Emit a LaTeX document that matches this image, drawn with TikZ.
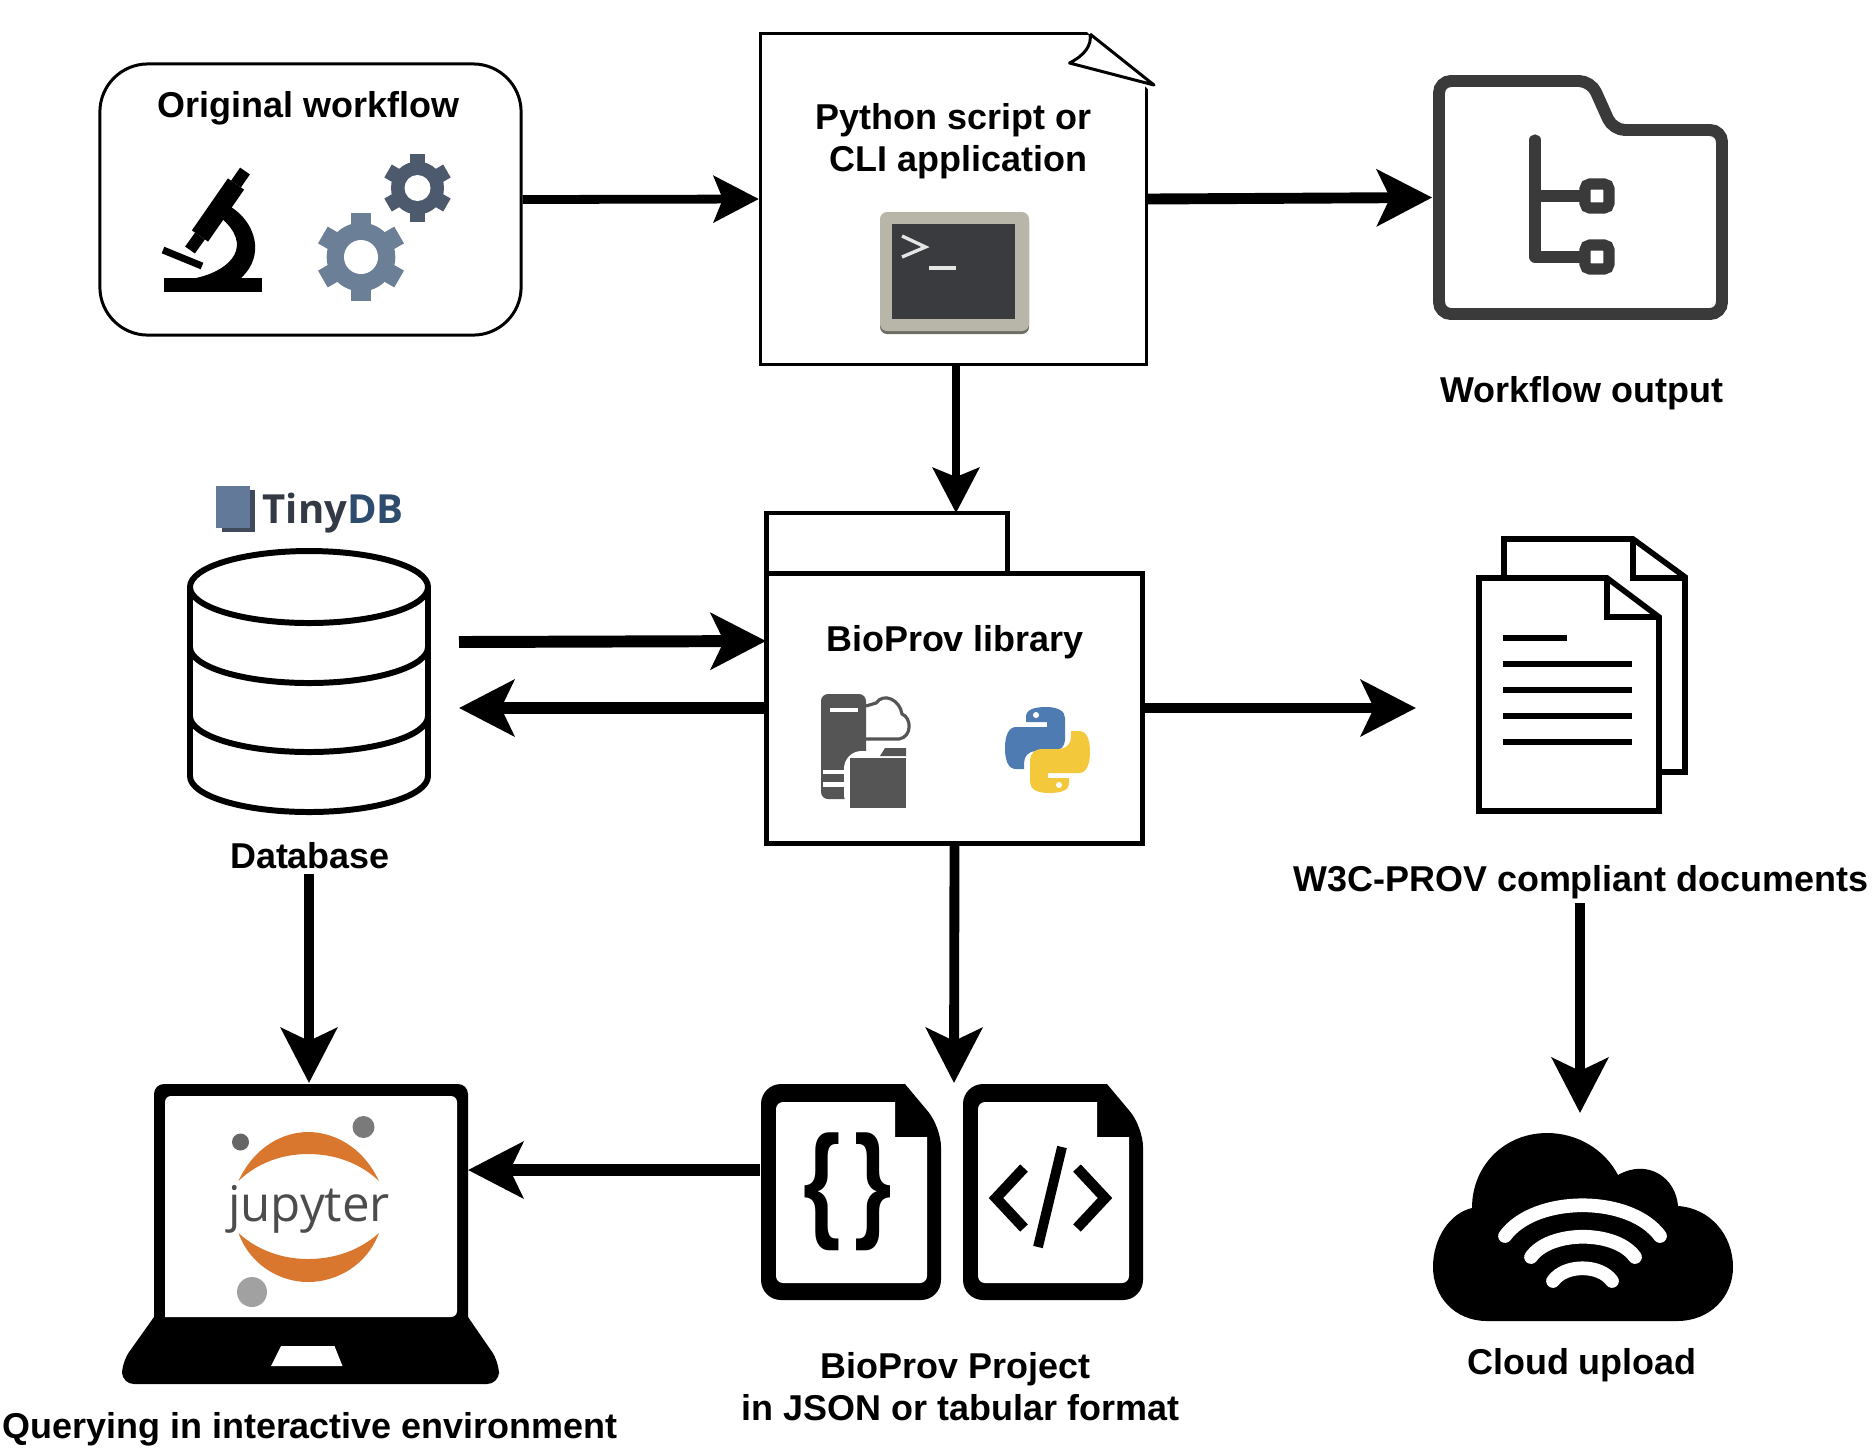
\documentclass[tikz,border=0pt]{standalone}
\usepackage{fontspec}
\usepackage{graphicx}
\setmainfont{Liberation Sans}
\newfontfamily\logofont{Open Sans}
\definecolor{gearlight}{RGB}{107,127,150}
\definecolor{geardark}{RGB}{77,90,109}
\definecolor{termframe}{RGB}{184,182,168}
\definecolor{termscreen}{RGB}{58,59,62}
\definecolor{foldergray}{RGB}{58,58,58}
\definecolor{servergray}{RGB}{85,85,85}
\definecolor{pyblue}{RGB}{79,123,179}
\definecolor{pyyellow}{RGB}{243,201,59}
\definecolor{jupyorange}{RGB}{217,119,47}
\definecolor{tinyblue}{RGB}{98,121,154}
\definecolor{tinyshade}{RGB}{63,74,91}
\definecolor{tinydark}{RGB}{51,58,69}
\definecolor{tinyletter}{RGB}{46,77,110}
\usetikzlibrary{arrows.meta,positioning,calc}
\tikzset{
    lbl/.style={font=\bfseries\fontsize{10.22}{11.95}\selectfont, inner sep=0pt, align=center},
    flow/.style={line width=2.8pt, -{Stealth[length=0.55cm,width=0.56cm,inset=0.13cm]}},
    smallflow/.style={line width=2.5pt, -{Stealth[length=0.45cm,width=0.46cm,inset=0.09cm]}},
}
% one gear: x, y, outer radius, hole radius, colour
\newcommand{\gearicon}[5]{
    \foreach \a in {30,90,...,330}
        \draw[#5, line width=#3*0.125pt] (#1,#2) -- ++(\a:#3);
    \fill[#5] (#1,#2) circle [radius=#3*0.78];
    \fill[white] (#1,#2) circle [radius=#4];
}
% one page with folded corner, black frame: left edge
\newcommand{\pageicon}[1]{
    \begin{scope}[shift={(#1,0)}]
        \fill (144,1084) [rounded corners=0.2cm] -- (0,1084) -- (0,1300) -- (180,1300) -- (180,1127) [sharp corners] -- cycle;
        \fill[white] (134,1102) [rounded corners=0.07cm] -- (15,1102) -- (15,1283) -- (166,1283) [sharp corners] -- (166,1137) -- (134,1137) -- cycle;
    \end{scope}
}
\begin{document}
\begin{tikzpicture}[x=0.01cm,y=-0.01cm]
    \useasboundingbox (0,0) rectangle (1875,1450);

    % Original workflow
    \node (wfbox) at (310.5,199.5) [draw, line width=0.85pt, rounded corners=0.48cm, minimum width=4.21cm, minimum height=2.71cm] {};
    \node (wflabel) [lbl] at (308.5,108.5) {Original workflow};
    \draw[line width=3.4pt] (245,171) -- (236,184);
    \draw[line width=5.6pt] (236,184) -- (200,236);
    \draw[line width=3.4pt] (200,236) -- (190,250);
    \draw[line width=2pt] (163,250) -- (202,266);
    \fill (164,278) rectangle (262,292);
    \fill (231,207) .. controls (255,222) and (266,255) .. (241,278) -- (196,278)
        .. controls (232,270) and (254,245) .. (220,217) -- cycle;
    \gearicon{361}{257}{44}{17}{gearlight}
    \gearicon{417.5}{188}{34}{13}{geardark}

    % Python script
    \node (pydoc) at (953.5,199) [draw, line width=0.85pt, minimum width=3.86cm, minimum height=3.3cm] {};
    \fill[white] (1085,30) -- (1155,30) -- (1155,90) -- (1149,90) -- cycle;
    \draw[line width=0.85pt, line join=round] (1090,34) -- (1154,85) -- (1069.5,63) .. controls (1085,55) and (1092,45) .. (1090,34);
    \node (pylabel) [lbl] at (958.5,141.5) {Python script or\hspace*{2.8pt}\\CLI application};
    \fill[termframe!60!black, rounded corners=2] (880,214) rectangle (1029,334);
    \fill[termframe, rounded corners=2] (880,212) rectangle (1029,331);
    \fill[termscreen] (892,224) rectangle (1015,319);
    \draw[white!90!black, line width=0.95pt] (902,236) -- (925.5,247) -- (902,257);
    \draw[white!90!black, line width=0.95pt] (929,268) -- (956,268);

    % Workflow output
    \node (wfout) at (1580.5,197.5) [minimum width=2.95cm, minimum height=2.45cm, inner sep=0pt] {};
    \draw[foldergray, line width=3.4pt, rounded corners=0.12cm] (1439,81) -- (1591,81) -- (1613,130) -- (1722,130) -- (1722,314) -- (1439,314) -- cycle;
    \draw[foldergray, line width=3.2pt, line cap=round, line join=round] (1535,140) -- (1535,257) -- (1590,257);
    \draw[foldergray, line width=3.2pt] (1535,196) -- (1590,196);
    \draw[foldergray, line width=3.2pt, fill=white, rounded corners=0.05cm] (1585,184) rectangle (1609,208);
    \draw[foldergray, line width=3.2pt, fill=white, rounded corners=0.05cm] (1585,245) rectangle (1609,269);
    \node (wfoutlabel) [lbl] at (1582,393.5) {Workflow output};

    % BioProv library
    \node (libtab) at (887,544) [draw, line width=1.4pt, minimum width=2.41cm, minimum height=0.62cm] {};
    \node (libbody) at (954.5,708.5) [draw, fill=white, line width=1.4pt, minimum width=3.76cm, minimum height=2.7cm] {};
    \node (liblabel) [lbl] at (955,642.5) {BioProv library};
    \fill[servergray, rounded corners=2] (821,694) rectangle (866,799);
    \fill[white] (830,708) rectangle (858,712);
    \fill[white] (823,770) rectangle (850,774);
    \fill[white] (823,782) rectangle (850,787);
    \draw[servergray, line width=0.9pt] (866,739) -- (899,739) .. controls (912,737) and (912,718) .. (902,714)
        .. controls (900,700) and (884,692) .. (876,703) -- (866,706);
    \fill[white, rounded corners=5] (844,751) rectangle (912,812);
    \fill[servergray] (850,758) rectangle (906,808);
    \fill[servergray] (880,756) -- (885,748) -- (906,748) -- (906,756) -- cycle;
    % python logo
    \fill[pyblue] (1026,722) -- (1026,717) .. controls (1026,710) and (1033,707) .. (1046,707) .. controls (1058,707) and (1065,711) .. (1065,718)
        -- (1065,740) .. controls (1065,746) and (1060,751) .. (1054,751) -- (1036,751) .. controls (1029,751) and (1024,756) .. (1024,763)
        -- (1024,769) -- (1016,769) .. controls (1009,769) and (1005,762) .. (1005,748) .. controls (1005,735) and (1009,727) .. (1016,727)
        -- (1047,727) -- (1047,722) -- cycle;
    \fill[white] (1036,715) circle [radius=3];
    \begin{scope}[rotate around={180:(1047.5,750)}]
        \fill[pyyellow] (1026,722) -- (1026,717) .. controls (1026,710) and (1033,707) .. (1046,707) .. controls (1058,707) and (1065,711) .. (1065,718)
            -- (1065,740) .. controls (1065,746) and (1060,751) .. (1054,751) -- (1036,751) .. controls (1029,751) and (1024,756) .. (1024,763)
            -- (1024,769) -- (1016,769) .. controls (1009,769) and (1005,762) .. (1005,748) .. controls (1005,735) and (1009,727) .. (1016,727)
            -- (1047,727) -- (1047,722) -- cycle;
        \fill[white] (1036,715) circle [radius=3];
    \end{scope}

    % Database
    \fill[tinyshade] (222,490) rectangle (254.5,532);
    \fill[tinyblue] (216,486) rectangle (250,528);
    \node (tinylabel) [anchor=west, inner sep=0pt, font=\logofont\bfseries\fontsize{11.4}{13}\selectfont] at (262,513.5) {\textcolor{tinydark}{Tiny}\textcolor{tinyletter}{DB}};
    \node (dbnode) at (309,682) [minimum width=2.44cm, minimum height=2.66cm, inner sep=0pt] {};
    \draw[line width=1.7pt] (309,587) ellipse [x radius=119, y radius=36];
    \draw[line width=1.7pt] (190,587) -- (190,776) arc [start angle=180, end angle=0, x radius=119, y radius=36] -- (428,587);
    \draw[line width=1.7pt] (190,647) arc [start angle=180, end angle=0, x radius=119, y radius=36];
    \draw[line width=1.7pt] (190,716) arc [start angle=180, end angle=0, x radius=119, y radius=36];
    \node (dblabel) [lbl] at (310,856) {Database};

    % W3C-PROV documents
    \node (provdoc) at (1581.5,675) [minimum width=2.11cm, minimum height=2.77cm, inner sep=0pt] {};
    \draw[line width=1.6pt, fill=white] (1504,578) -- (1504,539) -- (1633,539) -- (1685,577) -- (1685,772) -- (1655,772);
    \draw[line width=1.6pt] (1633,539) -- (1633,578) -- (1685,578);
    \draw[line width=1.6pt, fill=white] (1479,578) -- (1607,578) -- (1659,617) -- (1659,811) -- (1479,811) -- cycle;
    \draw[line width=1.6pt] (1607,578) -- (1607,617) -- (1659,617);
    \draw[line width=1.6pt] (1503,638) -- (1567,638);
    \foreach \y in {664,690,716,742}
        \draw[line width=1.6pt] (1503,\y) -- (1632,\y);
    \node (provlabel) [lbl] at (1581,882.5) {W3C-PROV compliant documents};

    % Cloud upload
    \node (cloud) at (1583,1227) [minimum width=3cm, minimum height=1.88cm, inner sep=0pt] {};
    \fill (1487,1321) .. controls (1455,1321) and (1433,1297) .. (1433,1267) .. controls (1433,1238) and (1450,1213) .. (1472,1208)
        .. controls (1472,1165) and (1505,1133) .. (1547,1133) .. controls (1578,1133) and (1605,1150) .. (1618,1175)
        .. controls (1648,1158) and (1676,1178) .. (1678,1206) .. controls (1710,1208) and (1733,1235) .. (1733,1267)
        .. controls (1733,1297) and (1710,1321) .. (1677,1321) -- cycle;
    \draw[white, line width=3.9pt, line cap=round] (1505,1236) .. controls (1535,1195) and (1630,1195) .. (1660,1236);
    \draw[white, line width=3.9pt, line cap=round] (1531,1257) .. controls (1550,1230) and (1616,1230) .. (1635,1257);
    \draw[white, line width=3.9pt, line cap=round] (1553,1281) .. controls (1565,1264) and (1600,1264) .. (1612,1281);
    \node (cloudlabel) [lbl] at (1582,1365.5) {Cloud upload};

    % BioProv project
    \node (jsondoc) at (851,1192) [minimum width=1.8cm, minimum height=2.16cm, inner sep=0pt] {};
    \node (tabdoc) at (1053,1192) [minimum width=1.8cm, minimum height=2.16cm, inner sep=0pt] {};
    \pageicon{761}
    \pageicon{963}
    \node (jsonbrace) [inner sep=0pt, font=\bfseries\fontsize{36}{36}\selectfont] at (848,1192) {\scalebox{0.76}[1]{\{\hspace{5pt}\}}};
    \draw[line width=3pt, miter limit=10] (1024,1168) -- (996,1198) -- (1024,1228);
    \draw[line width=3pt, miter limit=10] (1077,1168) -- (1105,1198) -- (1077,1228);
    \draw[line width=2.8pt] (1062,1147) -- (1038,1247);
    \node (projlabel) [lbl] at (960.5,1387) {BioProv Project\hspace*{2.8pt}\\in JSON or tabular format};

    % Laptop
    \node (laptop) at (310,1234) [minimum width=3.77cm, minimum height=3cm, inner sep=0pt] {};
    \fill[rounded corners=0.1cm] (154,1330) -- (154,1084) -- (468,1084) -- (468,1330) -- cycle;
    \fill (154,1317) [rounded corners=0.12cm] -- (122,1362) -- (122,1384) -- (499,1384) -- (499,1362) [sharp corners] -- (468,1317) -- cycle;
    \fill[white, rounded corners=0.06cm] (165,1317) -- (165,1096) -- (457,1096) -- (457,1317) [sharp corners] -- cycle;
    \fill[white] (281,1346) -- (334.5,1346) -- (342.5,1366) -- (271,1366) -- cycle;
    \fill[jupyorange] (238.5,1181) .. controls (255,1145) and (285,1132) .. (308,1132) .. controls (332,1132) and (362,1145) .. (379,1181)
        .. controls (360,1163) and (335,1154) .. (308,1154) .. controls (282,1154) and (257,1163) .. cycle;
    \fill[jupyorange] (238.5,1233) .. controls (250,1265) and (280,1282) .. (308,1282) .. controls (337,1282) and (367,1265) .. (379,1233)
        .. controls (360,1250) and (335,1259) .. (308,1259) .. controls (282,1259) and (257,1250) .. cycle;
    \fill[black!60] (240.5,1142) circle [radius=8.5];
    \fill[black!52] (363.5,1127) circle [radius=11];
    \fill[black!37] (252,1292) circle [radius=15];
    \node (jupylabel) [inner sep=0pt, text=black!70, font=\logofont\fontsize{14}{16}\selectfont] at (309,1209) {jupyter};
    \node (laptoplabel) [lbl] at (310,1429.5) {Querying in interactive environment};

    % Connectors
    \coordinate (pydown) at (956,364);
    \coordinate (libtop) at (956,513);
    \coordinate (dbout) at (459,642);
    \coordinate (libin) at (766,641);
    \coordinate (libout) at (766,708);
    \coordinate (dbin) at (459,708);
    \coordinate (provin) at (1416,708);
    \coordinate (laptopin) at (468,1170);
    \coordinate (projtop) at (954,1083);
    \coordinate (provdown) at (1580,903);
    \coordinate (cloudtop) at (1580,1113);
    \coordinate (dbdown) at (309,874);
    \coordinate (laptoptop) at (309,1083);
    \draw[smallflow] (wfbox.east) -- (pydoc.west);
    \draw[flow, line width=3.1pt] (pydoc.east) -- (wfout.west);
    \draw[smallflow] (pydown) -- (libtop);
    \draw[flow, line width=3.4pt] (dbout) -- (libin);
    \draw[flow, line width=3.2pt] (libout) -- (dbin);
    \draw[flow] (libbody.east |- provin) -- (provin);
    \draw[flow] (libbody.south) -- (projtop);
    \draw[flow] (provdown) -- (cloudtop);
    \draw[flow] (dbdown) -- (laptoptop);
    \draw[flow, line width=3.2pt] (jsondoc.west |- laptopin) -- (laptopin);
\end{tikzpicture}
\end{document}
